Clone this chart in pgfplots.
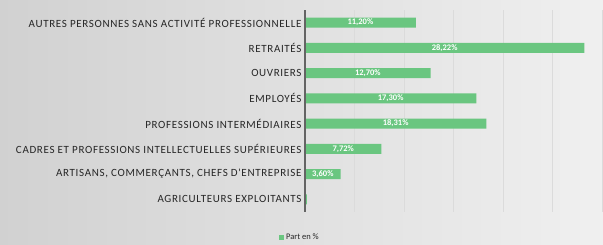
\documentclass[border=0pt]{standalone}
\usepackage{pgfplots}
\pgfplotsset{compat=1.18}
\usepackage{fontspec}
\setmainfont{Carlito}
\newfontfamily\spaced[LetterSpace=6]{Carlito}
\definecolor{barg}{RGB}{106,198,128}
\definecolor{axg}{RGB}{100,100,100}
\begin{document}
\begin{tikzpicture}[x=1pt,y=1pt]
\shade[left color=black!18, middle color=white, right color=black!6] (0,0) rectangle (603,245);
\useasboundingbox (0,0) rectangle (603,245);
\begin{axis}[
  at={(305pt,33pt)}, anchor=south west,
  scale only axis, width=297pt, height=202pt,
  xmin=0, xmax=30,
  ymin=-0.5, ymax=7.5, y dir=reverse,
  ytick={0,...,7},
  yticklabels={AUTRES PERSONNES SANS ACTIVITÉ PROFESSIONNELLE, RETRAITÉS, OUVRIERS, EMPLOYÉS, PROFESSIONS INTERMÉDIAIRES, CADRES ET PROFESSIONS INTELLECTUELLES SUPÉRIEURES, {ARTISANS, COMMERÇANTS, CHEFS D'ENTREPRISE}, AGRICULTEURS EXPLOITANTS},
  yticklabel style={font=\spaced\fontsize{11}{11}\selectfont, text=black!85},
  xtick={0,5,...,30}, xticklabels={},
  major tick length=0pt,
  xmajorgrids, grid style={black!14},
  axis line style={draw=none},
  legend style={at={(-0.017,-0.124)}, anchor=center, draw=none, fill=none, font=\fontsize{8.5}{9}\selectfont, text=black!85},
  legend image code/.code={\fill[barg] (0pt,-2.5pt) rectangle (5pt,2.5pt);},
  clip=false,
]
\addplot[xbar, bar width=10pt, bar shift=0pt, fill=barg, draw=none] coordinates {(11.20,0) (28.22,1) (12.70,2) (17.30,3) (18.31,4) (7.72,5) (3.60,6) (0.20,7)};
\addlegendentry{Part en \%}
\addplot[only marks, mark=none, draw=none, forget plot,
  nodes near coords={\pgfmathprintnumber[fixed,fixed zerofill,precision=2,use comma,assume math mode=true]{\pgfplotspointmeta}\%},
  point meta=explicit,
  every node near coord/.append style={anchor=center, inner sep=0pt, text=white, font=\bfseries\fontsize{8.5}{8.5}\selectfont}]
  table[x expr=\thisrow{v}/2, y=c, meta=v] {
  v c
  11.20 0
  28.22 1
  12.70 2
  17.30 3
  18.31 4
  7.72 5
  3.60 6
  };
\draw[axg, line width=1.2pt] (axis cs:0,-0.5) -- (axis cs:0,7.5);
\end{axis}
\end{tikzpicture}
\end{document}
